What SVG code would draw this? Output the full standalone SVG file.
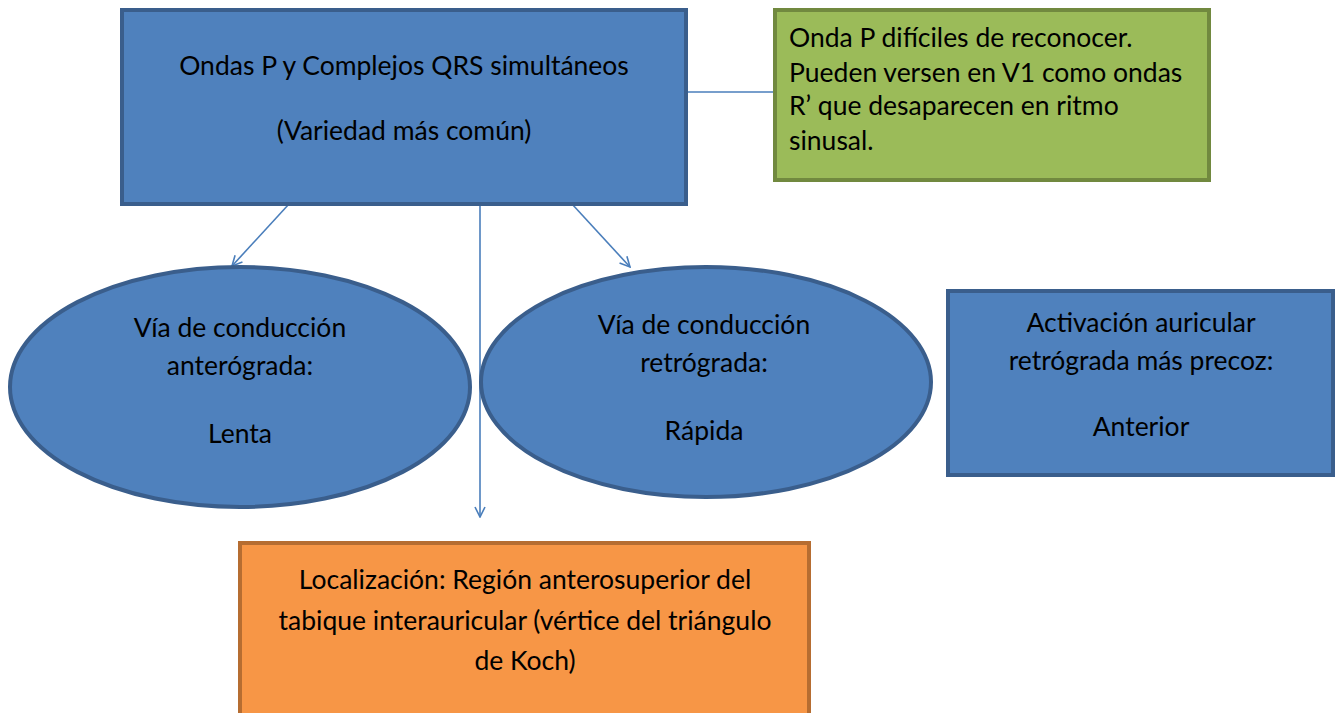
<svg xmlns="http://www.w3.org/2000/svg" width="1339" height="713" viewBox="0 0 1339 713">
<defs>
<style>
.blue{fill:#4f81bd;stroke:#3a5e8c;stroke-width:4}
.green{fill:#9bbb59;stroke:#71893f;stroke-width:4}
.orange{fill:#f79646;stroke:#b66d31;stroke-width:4}
text{font-family:Lato,"Open Sans","Liberation Sans",sans-serif;font-size:26.5px;fill:#000}
.c{text-anchor:middle}
.conn{stroke:#4a7ebb;stroke-width:1.6;fill:none}
</style>
<marker id="arr" viewBox="0 0 12 12" refX="11" refY="6" markerWidth="12" markerHeight="12" markerUnits="userSpaceOnUse" orient="auto">
<path d="M1,1 L11,6 L1,11" fill="none" stroke="#4a7ebb" stroke-width="1.6"/>
</marker>
</defs>
<rect width="1339" height="713" fill="#fff"/>
<g id="connectors">
<line class="conn" x1="686" y1="92" x2="785" y2="92"/>
<line class="conn" x1="289" y1="204" x2="232" y2="266" marker-end="url(#arr)"/>
<line class="conn" x1="480" y1="204" x2="480" y2="517" marker-end="url(#arr)"/>
<line class="conn" x1="572" y1="204" x2="630" y2="267" marker-end="url(#arr)"/>
</g>
<g id="main">
<rect class="blue" x="122" y="10" width="564" height="194"/>
<text class="c" x="404" y="75">Ondas P y Complejos QRS simultáneos</text>
<text class="c" x="404" y="140">(Variedad más común)</text>
</g>
<g id="note">
<rect class="green" x="775" y="10" width="434" height="170"/>
<text x="789" y="47">Onda P difíciles de reconocer.</text>
<text x="789" y="82">Pueden versen en V1 como ondas</text>
<text x="789" y="115">R’ que desaparecen en ritmo</text>
<text x="789" y="150">sinusal.</text>
</g>
<g id="anterograda">
<ellipse class="blue" cx="240" cy="387" rx="230" ry="120"/>
<text class="c" x="240" y="337">Vía de conducción</text>
<text class="c" x="240" y="375">anterógrada:</text>
<text class="c" x="240" y="443">Lenta</text>
</g>
<g id="retrograda">
<ellipse class="blue" cx="706" cy="382" rx="225" ry="115"/>
<text class="c" x="704" y="334">Vía de conducción</text>
<text class="c" x="704" y="372">retrógrada:</text>
<text class="c" x="704" y="440">Rápida</text>
</g>
<g id="activacion">
<rect class="blue" x="948" y="291" width="385" height="184"/>
<text class="c" x="1141" y="332">Activación auricular</text>
<text class="c" x="1141" y="370">retrógrada más precoz:</text>
<text class="c" x="1141" y="436">Anterior</text>
</g>
<g id="localizacion">
<rect class="orange" x="240" y="543" width="569" height="180"/>
<text class="c" x="525" y="589">Localización: Región anterosuperior del</text>
<text class="c" x="525" y="630">tabique interauricular (vértice del triángulo</text>
<text class="c" x="525" y="670">de Koch)</text>
</g>
</svg>
